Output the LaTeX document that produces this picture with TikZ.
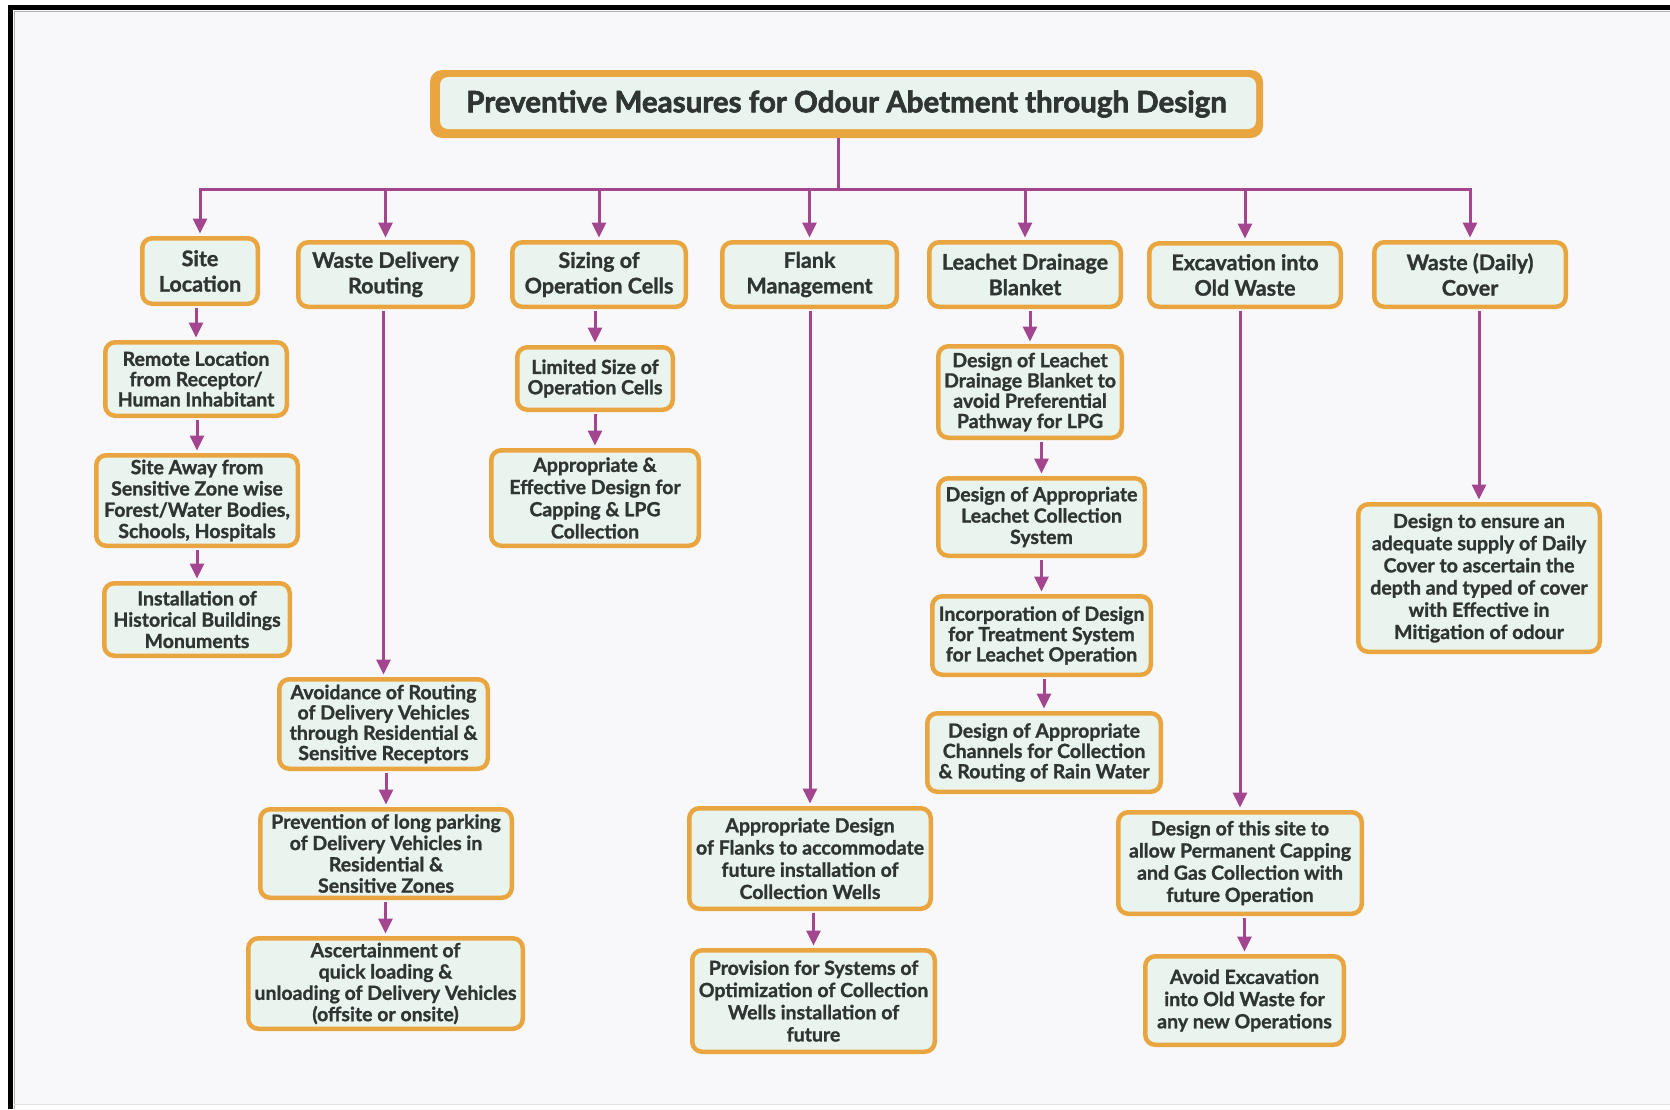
\documentclass[tikz,border=0pt]{standalone}
\usepackage{fontspec}
\setmainfont{Lato}[BoldFeatures={FakeBold=1.2}]
\newfontfamily\headingfont{Lato}[BoldFeatures={FakeBold=2.2}]
\usetikzlibrary{arrows.meta}

\definecolor{pagebg}{HTML}{F8F8FB}
\definecolor{edge}{HTML}{E9A640}
\definecolor{cell}{HTML}{EAF4EE}
\definecolor{ink}{HTML}{2F3532}
\definecolor{link}{HTML}{A4468F}

\tikzset{
  cardbox/.style={draw=edge, line width=4.5pt, fill=cell, rounded corners=10pt,
    align=center, inner sep=0pt, text=ink,
    font=\bfseries\fontsize{19.5}{20.3}\selectfont},
  midbox/.style={cardbox, font=\bfseries\fontsize{19.5}{21.3}\selectfont},
  loosebox/.style={cardbox, font=\bfseries\fontsize{19.5}{22.2}\selectfont},
  headbox/.style={cardbox, font=\bfseries\fontsize{21.5}{25.5}\selectfont},
  conn/.style={draw=link, line width=3pt},
  arr/.style={conn, -{Triangle[width=14pt,length=15pt]}, shorten >=2.5pt, shorten <=2pt},
}

% \card[style]{name}{x1}{y1}{x2}{y2}{text}: box given by its outer edges
\newcommand{\card}[7][cardbox]{%
  \node[#1, minimum width={#5-#3-4.5}, minimum height={#6-#4-4.5}]
    (#2) at ({(#3+#5)/2},{(#4+#6)/2}) {#7};}

\begin{document}
\begin{tikzpicture}[x=1pt, y=-1pt]
  \useasboundingbox (0,0) rectangle (1670,1109);
  \fill[white] (0,0) rectangle (1670,1109);
  \fill[pagebg] (13,10) rectangle (1670,1104);
  % frame
  \draw[black, line width=5pt] (10.5,1109) -- (10.5,7.5) -- (1670,7.5);
  \draw[black!30, line width=1pt] (14,1109) -- (14,11) -- (1670,11);
  \draw[black!12, line width=1pt] (14,1104.5) -- (1670,1104.5);

  % title plate
  \fill[edge, rounded corners=12pt] (430,70) rectangle (1263,138);
  \fill[cell, rounded corners=8pt] (440,77) rectangle (1256,129);
  \node[minimum width=833pt, minimum height=68pt, inner sep=0pt, text=ink,
        font=\headingfont\bfseries\fontsize{29.5}{32}\selectfont]
    (title) at (846.5,104) {Preventive Measures for Odour Abetment through Design};

  % first level
  \card[headbox]{site}{140}{236}{260}{306}{Site\\Location}
  \card[headbox]{wdr}{296}{240}{475}{309}{Waste Delivery\\Routing}
  \card[headbox]{size}{510}{240}{688}{309}{Sizing of\\Operation Cells}
  \card[headbox]{flank}{720}{240}{899}{309}{Flank\\Management}
  \card[headbox]{leach}{927}{240}{1123}{309}{Leachet Drainage\\Blanket}
  \card[headbox]{excav}{1147}{241}{1343}{309}{Excavation into\\Old Waste}
  \card[headbox]{daily}{1372}{240}{1568}{309}{Waste (Daily)\\Cover}

  % site location
  \card{remote}{103}{340}{289}{418}{Remote Location\\from Receptor/\\Human Inhabitant}
  \card[midbox]{away}{94}{453}{300}{548}{Site Away from\\Sensitive Zone wise\\Forest/Water Bodies,\\Schools, Hospitals}
  \card[midbox]{install}{102}{581}{292}{658}{Installation of\\Historical Buildings\\Monuments}

  % waste delivery routing
  \card{avoid}{277}{677}{490}{771}{Avoidance of Routing\\of Delivery Vehicles\\through Residential \&\\Sensitive Receptors}
  \card[midbox]{park}{258}{807}{514}{900}{Prevention of long parking\\of Delivery Vehicles in\\Residential \&\\Sensitive Zones}
  \card[midbox]{quick}{246}{936}{525}{1031}{Ascertainment of\\quick loading \&\\unloading of Delivery Vehicles\\(offsite or onsite)}

  % sizing of operation cells
  \card{limited}{515}{345}{675}{412}{Limited Size of\\Operation Cells}
  \card[loosebox]{capping}{489}{448}{701}{548}{Appropriate \&\\Effective Design for\\Capping \& LPG\\Collection}

  % flank management
  \card[loosebox]{flanks}{687}{806}{933}{911}{Appropriate Design\\of Flanks to accommodate\\future installation of\\Collection Wells}
  \card[loosebox]{wells}{690}{948}{937}{1054}{Provision for Systems of\\Optimization of Collection\\Wells installation of\\future}

  % leachet drainage blanket
  \card{ldesign}{936}{344}{1124}{440}{Design of Leachet\\Drainage Blanket to\\avoid Preferential\\Pathway for LPG}
  \card[midbox]{lcollect}{936}{476}{1147}{558}{Design of Appropriate\\Leachet Collection\\System}
  \card{ltreat}{930}{594}{1153}{677}{Incorporation of Design\\for Treatment System\\for Leachet Operation}
  \card{lrain}{925}{711}{1163}{794}{Design of Appropriate\\Channels for Collection\\\& Routing of Rain Water}

  % excavation into old waste
  \card[loosebox]{permcap}{1116}{810}{1364}{916}{Design of this site to\\allow Permanent Capping\\and Gas Collection with\\future Operation}
  \card[loosebox]{avoidex}{1143}{954}{1346}{1047}{Avoid Excavation\\into Old Waste for\\any new Operations}

  % waste (daily) cover
  \card[loosebox]{cover}{1356}{502}{1602}{654}{Design to ensure an\\adequate supply of Daily\\Cover to ascertain the\\depth and typed of cover\\with Effective in\\Mitigation of odour}

  % trunk and branches
  \coordinate (barmid) at (838,189);
  \draw[conn] (title.south -| barmid) -- (barmid);
  \draw[conn, line cap=rect] (site.north |- barmid) -- (daily.north |- barmid);
  \foreach \b in {site,wdr,size,flank,leach,excav,daily}
    \draw[arr, shorten <=0pt] (\b.north |- barmid) -- (\b.north);

  % chains
  \foreach \p/\c in {site/remote, remote/away, away/install,
                     wdr/avoid, avoid/park, park/quick,
                     size/limited, limited/capping,
                     flank/flanks, flanks/wells,
                     leach/ldesign, ldesign/lcollect, lcollect/ltreat, ltreat/lrain,
                     excav/permcap, permcap/avoidex,
                     daily/cover}
    \draw[arr] (\c.north |- \p.south) -- (\c.north);
\end{tikzpicture}
\end{document}
